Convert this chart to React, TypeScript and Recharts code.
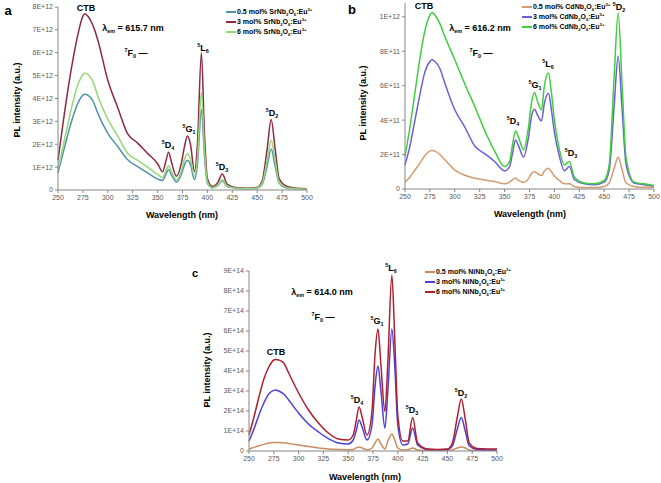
import React from 'react';
import { LineChart, Line, XAxis, YAxis } from 'recharts';

// excitation wavelength grid (nm), shared by all three panels
const wavelengths = [
  250, 255, 260, 265, 270, 275, 277, 280, 285, 290, 300, 310, 320, 330, 340, 350, 355, 358, 361, 364, 369, 374, 377,
  380, 383, 387, 390, 394, 397, 400, 405, 410, 415, 420, 430, 440, 450, 455, 460, 464, 468, 472, 480, 490, 500,
];
const xTicks = [250, 275, 300, 325, 350, 375, 400, 425, 450, 475, 500];

// panel a, SrNb2O6:Eu3+ (x1E+12)
const srLow = [
  0.75, 1.6, 2.45, 3.2, 3.8, 4.15, 4.19, 4.15, 3.9, 3.35, 2.48, 1.9, 1.32, 1.02, 0.75, 0.48, 0.42, 0.65, 0.9, 0.65, 0.35,
  0.7, 1.1, 1.3, 1.1, 0.45, 1.1, 3.52, 1.5, 0.3, 0.1, 0.18, 0.4, 0.15, 0.07, 0.05, 0.08, 0.25, 1.05, 1.79, 1.05, 0.3,
  0.08, 0.05, 0.03,
];
const srMid = [
  1.3, 2.9, 4.4, 5.7, 6.8, 7.6, 7.7, 7.6, 7.2, 6.55, 4.8, 3.6, 2.45, 2.05, 1.6, 1.15, 0.8, 1.2, 1.65, 1.2, 0.6, 1.2,
  1.9, 2.36, 2.0, 0.8, 2.0, 6.0, 2.5, 0.5, 0.15, 0.3, 0.7, 0.25, 0.1, 0.08, 0.12, 0.4, 1.8, 3.08, 1.8, 0.5, 0.15, 0.08,
  0.05,
];
const srHigh = [
  0.9, 1.9, 2.9, 3.85, 4.6, 5.05, 5.12, 5.05, 4.75, 4.1, 3.1, 2.35, 1.6, 1.3, 1.0, 0.68, 0.55, 0.8, 1.06, 0.8, 0.45,
  0.85, 1.35, 1.6, 1.35, 0.6, 1.4, 4.26, 1.8, 0.35, 0.1, 0.2, 0.45, 0.18, 0.08, 0.06, 0.1, 0.3, 1.3, 2.18, 1.3, 0.35,
  0.1, 0.06, 0.04,
];

// panel b, CdNb2O6:Eu3+ (x1E+11)
const cdLow = [
  0.4, 0.7, 1.1, 1.5, 1.95, 2.2, 2.23, 2.2, 2.0, 1.7, 1.1, 0.8, 0.62, 0.52, 0.43, 0.3, 0.4, 0.55, 0.62, 0.5, 0.38, 0.6,
  0.9, 1.0, 0.9, 0.78, 1.05, 1.2, 1.0, 0.75, 0.5, 0.3, 0.3, 0.15, 0.08, 0.08, 0.15, 0.35, 1.2, 1.84, 1.1, 0.35, 0.15,
  0.1, 0.1,
];
const cdMid = [
  1.4, 2.5, 4.0, 5.5, 6.8, 7.4, 7.5, 7.4, 7.0, 6.15, 4.6, 3.6, 2.5, 2.05, 1.6, 1.05, 1.3, 2.1, 2.85, 2.5, 1.86, 3.0,
  4.2, 4.63, 4.3, 3.95, 5.0, 5.56, 4.6, 3.3, 1.9, 1.06, 1.3, 0.55, 0.3, 0.25, 0.4, 1.1, 4.8, 7.72, 4.6, 1.4, 0.35, 0.25,
  0.18,
];
const cdHigh = [
  1.9, 3.6, 5.6, 7.6, 9.2, 10.1, 10.25, 10.1, 9.6, 8.85, 7.5, 6.1, 4.8, 3.4, 2.2, 1.3, 1.6, 2.6, 3.37, 3.0, 2.27, 3.6,
  5.0, 5.6, 5.1, 4.6, 6.0, 6.73, 5.6, 4.0, 2.3, 1.4, 1.6, 0.7, 0.35, 0.3, 0.5, 1.4, 6.5, 10.23, 6.0, 1.8, 0.4, 0.3, 0.2,
];

// panel c, NiNb2O6:Eu3+ (x1E+14)
const niLow = [
  0.1, 0.18, 0.26, 0.33, 0.4, 0.42, 0.42, 0.42, 0.4, 0.38, 0.3, 0.22, 0.15, 0.1, 0.08, 0.06, 0.08, 0.15, 0.2, 0.15,
  0.06, 0.15, 0.4, 0.6, 0.35, 0.1, 0.5, 0.85, 0.55, 0.15, 0.05, 0.06, 0.15, 0.05, 0.02, 0.02, 0.03, 0.06, 0.15, 0.2,
  0.15, 0.05, 0.02, 0.02, 0.02,
];
const niMid = [
  0.5, 1.1, 1.8, 2.4, 2.85, 3.03, 3.05, 3.0, 2.85, 2.55, 1.9, 1.35, 0.95, 0.62, 0.4, 0.35, 0.55, 1.0, 1.55, 1.2, 0.55,
  1.3, 3.2, 4.25, 3.0, 1.15, 3.0, 6.1, 4.2, 1.3, 0.3, 0.35, 1.15, 0.3, 0.08, 0.06, 0.08, 0.25, 1.1, 1.67, 1.0, 0.25,
  0.08, 0.06, 0.05,
];
const niHigh = [
  0.8, 1.7, 2.7, 3.6, 4.2, 4.55, 4.58, 4.55, 4.4, 3.9, 2.9, 2.05, 1.4, 0.9, 0.6, 0.55, 0.8, 1.5, 2.2, 1.7, 0.8, 2.0,
  4.8, 6.1, 4.3, 1.97, 4.5, 8.8, 5.5, 1.8, 0.5, 0.5, 1.67, 0.4, 0.1, 0.08, 0.1, 0.4, 1.7, 2.6, 1.6, 0.4, 0.12, 0.1, 0.1,
];

const FONT = '"Liberation Sans", Arial, sans-serif';
const tickStyle = { fontSize: 7, fill: '#595959', fontFamily: FONT };
const sci = (v: number) => (v === 0 ? '0' : v.toExponential(0).toUpperCase());

const build = (a: number[], b: number[], c: number[], scale: number) =>
  wavelengths.map((w, i) => ({ w, s1: a[i] * scale, s2: b[i] * scale, s3: c[i] * scale }));

const dataA = build(srLow, srMid, srHigh, 1e12);
const dataB = build(cdLow, cdMid, cdHigh, 1e11);
const dataC = build(niLow, niMid, niHigh, 1e14);

const Txt = ({ x, y, size = 9, children }: any) => (
  <div
    style={{
      position: 'absolute',
      left: x,
      top: y,
      transform: 'translate(-50%, -50%)',
      fontFamily: FONT,
      fontWeight: 'bold',
      fontSize: size,
      whiteSpace: 'nowrap',
      color: '#000',
      lineHeight: 1,
    }}
  >
    {children}
  </div>
);

const S = ({ c }: { c: string }) => <sup style={{ fontSize: '0.6em', lineHeight: 0 }}>{c}</sup>;
const B = ({ c }: { c: string }) => <sub style={{ fontSize: '0.6em', lineHeight: 0 }}>{c}</sub>;

const Term = ({ x, y, up, letter, low }: any) => (
  <Txt x={x} y={y}>
    <S c={up} />
    {letter}
    <B c={low} />
  </Txt>
);

const Legend = ({ x, y, items }: any) => (
  <div style={{ position: 'absolute', left: x, top: y, fontFamily: FONT, fontWeight: 'bold', fontSize: 7 }}>
    {items.map((it: any) => (
      <div key={it.label} style={{ display: 'flex', alignItems: 'center', height: 10 }}>
        <div style={{ width: 10, height: 1.5, background: it.color, marginRight: 1 }} />
        <span style={{ whiteSpace: 'nowrap' }}>
          {it.label} {it.host[0]}
          <B c="2" />
          {it.host[1]}
          <B c="6" />
          :Eu
          <S c="3+" />
        </span>
      </div>
    ))}
  </div>
);

const Panel = ({ data, left, top, width, height, margin, yWidth, xHeight, domain, ticks, colors }: any) => (
  <div style={{ position: 'absolute', left, top }}>
    <LineChart width={width} height={height} data={data} margin={margin}>
      <XAxis
        dataKey="w"
        type="number"
        domain={[250, 500]}
        ticks={xTicks}
        height={xHeight}
        tick={tickStyle}
        stroke="#868686"
        tickSize={3}
        interval={0}
      />
      <YAxis
        width={yWidth}
        domain={domain}
        ticks={ticks}
        tickFormatter={sci}
        tick={tickStyle}
        stroke="#868686"
        tickSize={3}
        interval={0}
        allowDataOverflow
      />
      {['s1', 's2', 's3'].map((k, i) => (
        <Line
          key={k}
          dataKey={k}
          type="monotone"
          stroke={colors[i]}
          strokeWidth={1.5}
          dot={false}
          isAnimationActive={false}
        />
      ))}
    </LineChart>
  </div>
);

const colorsA = ['#4f93a6', '#8c2a40', '#95d877'];
const colorsB = ['#d39b70', '#6a5fd4', '#3fce3f'];
const colorsC = ['#c98c5e', '#4c40d8', '#b01f2c'];

const YTitle = ({ x, y }: any) => (
  <div
    style={{
      position: 'absolute',
      left: x,
      top: y,
      transform: 'translate(-50%, -50%) rotate(-90deg)',
      fontFamily: FONT,
      fontWeight: 'bold',
      fontSize: 9,
      whiteSpace: 'nowrap',
    }}
  >
    PL intensity (a.u.)
  </div>
);

export default function App() {
  return (
    <div style={{ position: 'absolute', left: 0, top: 0, width: 661, height: 483, background: '#fff', overflow: 'hidden' }}>
      <Panel
        data={dataA}
        left={0}
        top={0}
        width={320}
        height={225}
        margin={{ top: 7, right: 13, left: 0, bottom: 0 }}
        yWidth={58}
        xHeight={35}
        domain={[0, 8e12]}
        ticks={[0, 1e12, 2e12, 3e12, 4e12, 5e12, 6e12, 7e12, 8e12]}
        colors={colorsA}
      />
      <Panel
        data={dataB}
        left={330}
        top={0}
        width={331}
        height={225}
        margin={{ top: 3, right: 7, left: 0, bottom: 0 }}
        yWidth={75}
        xHeight={36}
        domain={[0, 1.08e12]}
        ticks={[0, 2e11, 4e11, 6e11, 8e11, 1e12]}
        colors={colorsB}
      />
      <Panel
        data={dataC}
        left={190}
        top={255}
        width={320}
        height={228}
        margin={{ top: 16, right: 13, left: 0, bottom: 0 }}
        yWidth={59}
        xHeight={32}
        domain={[0, 9e14]}
        ticks={[0, 1e14, 2e14, 3e14, 4e14, 5e14, 6e14, 7e14, 8e14, 9e14]}
        colors={colorsC}
      />

      {/* panel letters */}
      <Txt x={8} y={10} size={13}>a</Txt>
      <Txt x={352} y={9} size={13}>b</Txt>
      <Txt x={195} y={273} size={11}>c</Txt>

      {/* axis titles */}
      <YTitle x={17} y={100} />
      <YTitle x={363} y={103} />
      <YTitle x={207} y={370} />
      <Txt x={182} y={215}>Wavelength (nm)</Txt>
      <Txt x={530} y={214}>Wavelength (nm)</Txt>
      <Txt x={365} y={477}>Wavelength (nm)</Txt>

      {/* legends */}
      <Legend
        x={226}
        y={7}
        items={[
          { label: '0.5 mol%', host: ['SrNb', 'O'], color: colorsA[0] },
          { label: '3 mol%', host: ['SrNb', 'O'], color: colorsA[1] },
          { label: '6 mol%', host: ['SrNb', 'O'], color: colorsA[2] },
        ]}
      />
      <Legend
        x={522}
        y={2}
        items={[
          { label: '0.5 mol%', host: ['CdNb', 'O'], color: colorsB[0] },
          { label: '3 mol%', host: ['CdNb', 'O'], color: colorsB[1] },
          { label: '6 mol%', host: ['CdNb', 'O'], color: colorsB[2] },
        ]}
      />
      <Legend
        x={425}
        y={267}
        items={[
          { label: '0.5 mol%', host: ['NiNb', 'O'], color: colorsC[0] },
          { label: '3 mol%', host: ['NiNb', 'O'], color: colorsC[1] },
          { label: '6 mol%', host: ['NiNb', 'O'], color: colorsC[2] },
        ]}
      />

      {/* panel a annotations */}
      <Txt x={86} y={8}>CTB</Txt>
      <Txt x={133} y={28}>λ<B c="em" /> = 615.7 nm</Txt>
      <Txt x={136} y={53}><S c="7" />F<B c="0" /> —</Txt>
      <Term x={203} y={48} up="5" letter="L" low="6" />
      <Term x={189} y={129} up="5" letter="G" low="1" />
      <Term x={168} y={145} up="5" letter="D" low="4" />
      <Term x={222} y={167} up="5" letter="D" low="3" />
      <Term x={272} y={113} up="5" letter="D" low="2" />

      {/* panel b annotations */}
      <Txt x={424} y={6}>CTB</Txt>
      <Txt x={480} y={28}>λ<B c="em" /> = 616.2 nm</Txt>
      <Txt x={481} y={53}><S c="7" />F<B c="0" /> —</Txt>
      <Term x={548} y={64} up="5" letter="L" low="6" />
      <Term x={535} y={85} up="5" letter="G" low="1" />
      <Term x={513} y={121} up="5" letter="D" low="4" />
      <Term x={571} y={153} up="5" letter="D" low="3" />
      <Term x={619} y={7} up="5" letter="D" low="2" />

      {/* panel c annotations */}
      <Txt x={276} y={352}>CTB</Txt>
      <Txt x={322} y={292}>λ<B c="em" /> = 614.0 nm</Txt>
      <Txt x={323} y={317}><S c="7" />F<B c="0" /> —</Txt>
      <Term x={391} y={268} up="5" letter="L" low="6" />
      <Term x={377} y={321} up="5" letter="G" low="1" />
      <Term x={357} y={400} up="5" letter="D" low="4" />
      <Term x={412} y={410} up="5" letter="D" low="3" />
      <Term x={461} y={393} up="5" letter="D" low="2" />
    </div>
  );
}
